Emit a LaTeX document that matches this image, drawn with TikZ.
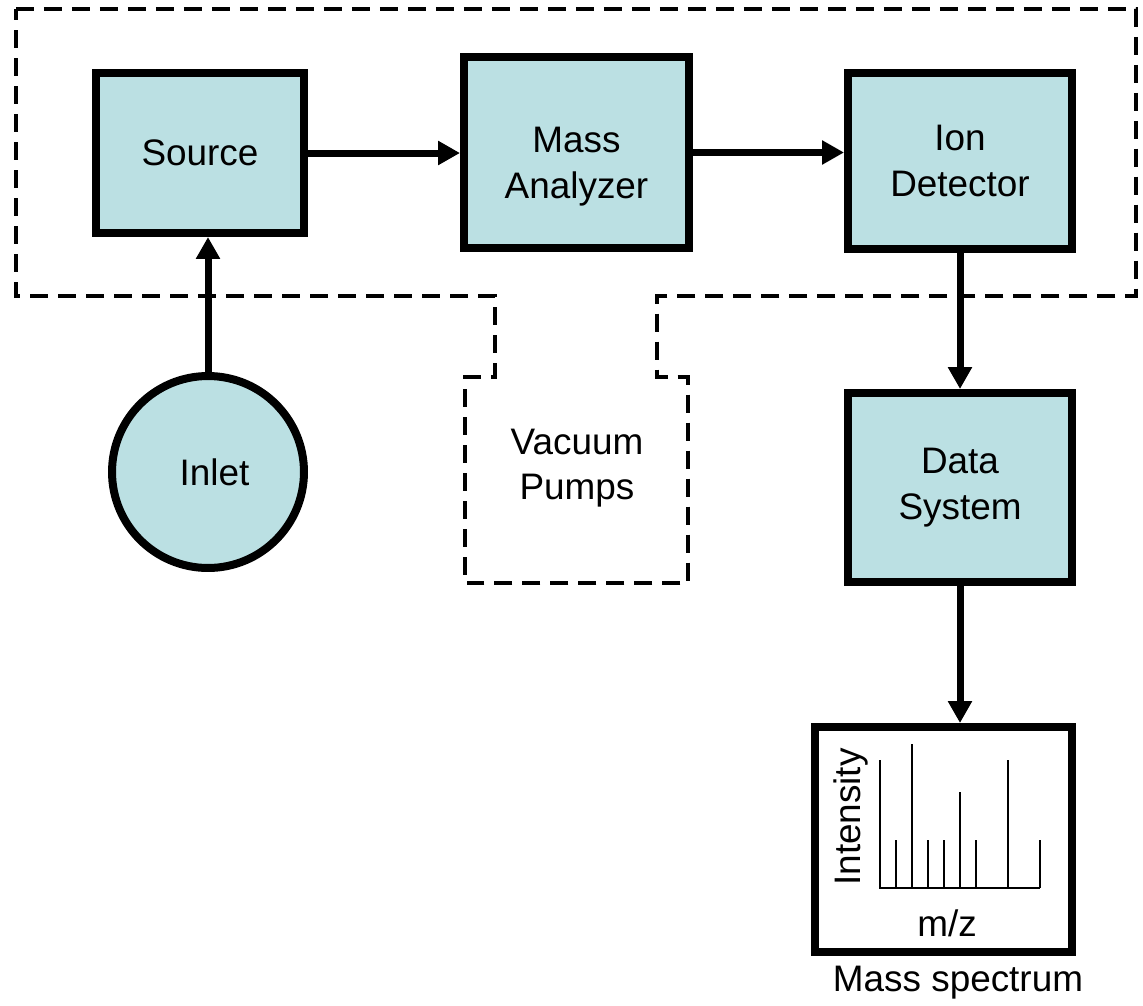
\documentclass[tikz,border=0pt]{standalone}
\usepackage{fontspec}
\setmainfont{Liberation Sans}
\usetikzlibrary{arrows.meta,calc}
\definecolor{boxfill}{RGB}{187,224,227}
\begin{document}
\begin{tikzpicture}[x=0.02cm,y=-0.02cm,
  every node/.style={font=\fontsize{21}{26}\selectfont, align=center},
  block/.style={draw, line width=0.16cm, fill=boxfill, rectangle, inner sep=0pt},
  plainbox/.style={draw, line width=0.16cm, fill=white, rectangle, inner sep=0pt},
  inletshape/.style={draw, line width=0.16cm, fill=boxfill, circle, inner sep=0pt, minimum size=3.84cm},
  flow/.style={line width=0.14cm, -{Triangle[length=0.44cm,width=0.46cm]}},
  enclosure/.style={line width=0.08cm, dash pattern=on 0.36cm off 0.2cm},
  peak/.style={line width=0.04cm}]
\useasboundingbox (0,0) rectangle (1143,1005);

% vacuum enclosure with the pump housing below it
\draw[enclosure] (16,9) -- (1136,9) -- (1136,296) -- (657,296) -- (657,377)
  -- (688,377) -- (688,583) -- (465,583) -- (465,377) -- (495,377)
  -- (495,296) -- (16,296) -- cycle;
\node (pumps) at (577,468) {Vacuum\\Pumps};

% main blocks
\node[block, minimum width=4.16cm, minimum height=3.2cm] (source) at (200,153) {Source};
\node[block, minimum width=4.5cm, minimum height=3.82cm,
  label={[yshift=-0.28cm]center:Mass\\Analyzer}] (mass) at (576.5,152.5) {};
\node[block, minimum width=4.48cm, minimum height=3.52cm] (ion) at (960,161) {Ion\\Detector};
\node[block, minimum width=4.48cm, minimum height=3.78cm] (data) at (960,487.5) {Data\\System};
\node[inletshape, label={[xshift=0.13cm]center:Inlet}] (inlet) at (208,472) {};
\node[plainbox, minimum width=5.14cm, minimum height=4.5cm] (spec) at (943.5,839.5) {};
\node (speclabel) at (958,983) {Mass spectrum};

% spectrum sketch
\draw[peak] (880,760) -- (880,888) -- (1040,888);
\foreach \px/\py in {896/840, 912/744, 928/840, 944/840, 960/792, 976/840, 1008/760, 1040/840}
  \draw[peak] (\px,888) -- (\px,\py);
\node[rotate=90] (intensity) at (851,817) {Intensity};
\node (mz) at (947,923) {m/z};

% connectors
\draw[flow] (source.east) -- (source.east -| mass.west);
\draw[flow] (mass.east) -- (mass.east -| ion.west);
\draw[flow] (ion.south) -- (data.north);
\draw[flow] (data.south) -- (data.south |- spec.north);
\draw[flow] (inlet.north) -- (inlet.north |- source.south);
\end{tikzpicture}
\end{document}
